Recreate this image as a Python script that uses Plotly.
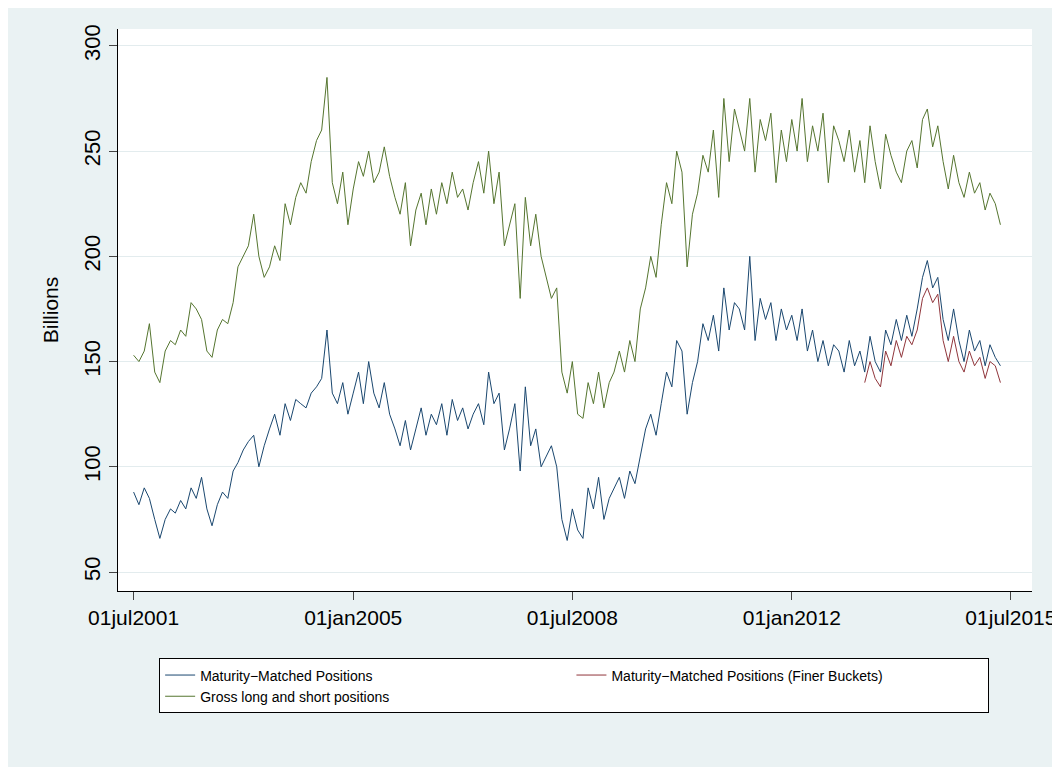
import pandas as pd
import plotly.graph_objects as go

# monthly readings, Jul 2001 - May 2015
gross = [153, 150, 155, 168, 145, 140,
         155, 160, 158, 165, 162, 178, 175, 170, 155, 152, 165, 170,
         168, 178, 195, 200, 205, 220, 200, 190, 195, 205, 198, 225,
         215, 228, 235, 230, 245, 255, 260, 285, 235, 225, 240, 215,
         232, 245, 238, 250, 235, 240, 252, 238, 228, 220, 235, 205,
         222, 230, 215, 232, 220, 235, 225, 240, 228, 232, 222, 235,
         245, 230, 250, 225, 240, 205, 215, 225, 180, 228, 205, 220,
         200, 190, 180, 185, 145, 135, 150, 125, 123, 140, 130, 145,
         128, 140, 145, 155, 145, 160, 150, 175, 185, 200, 190, 215,
         235, 225, 250, 240, 195, 220, 230, 248, 240, 260, 228, 275,
         245, 270, 260, 250, 275, 240, 265, 255, 268, 235, 260, 245,
         265, 250, 275, 245, 262, 250, 268, 235, 262, 255, 245, 260,
         240, 255, 235, 262, 245, 232, 258, 248, 240, 235, 250, 255,
         242, 265, 270, 252, 262, 245, 232, 248, 235, 228, 240, 230,
         235, 222, 230, 225, 215]

matched = [88, 82, 90, 85, 75, 66,
           75, 80, 78, 84, 80, 90, 85, 95, 80, 72, 82, 88,
           85, 98, 102, 108, 112, 115, 100, 110, 118, 125, 115, 130,
           122, 132, 130, 128, 135, 138, 142, 165, 135, 130, 140, 125,
           135, 145, 130, 150, 135, 128, 140, 125, 118, 110, 122, 108,
           118, 128, 115, 125, 120, 130, 115, 132, 122, 128, 118, 125,
           130, 120, 145, 130, 135, 108, 118, 130, 98, 138, 110, 118,
           100, 105, 110, 100, 75, 65, 80, 70, 66, 90, 80, 95,
           75, 85, 90, 95, 85, 98, 92, 105, 118, 125, 115, 130,
           145, 138, 160, 155, 125, 140, 150, 168, 160, 172, 155, 185,
           165, 178, 175, 165, 200, 160, 180, 170, 178, 160, 175, 165,
           172, 160, 175, 155, 165, 150, 160, 148, 158, 155, 145, 160,
           148, 155, 145, 162, 150, 145, 165, 158, 170, 160, 172, 162,
           175, 190, 198, 185, 190, 170, 160, 175, 160, 150, 165, 155,
           160, 148, 158, 152, 148]

finer = [140, 150, 142, 138, 155, 148, 160, 152, 162, 158,
         165, 180, 185, 178, 182, 160, 150, 162, 150, 145, 155, 148,
         152, 142, 150, 148, 140]

dates = pd.date_range("2001-07-01", periods=len(gross), freq="MS")
dates_finer = pd.date_range("2013-03-01", periods=len(finer), freq="MS")

tick_dates = ["2001-07-01", "2005-01-01", "2008-07-01", "2012-01-01", "2015-07-01"]
tick_text = ["01jul2001", "01jan2005", "01jul2008", "01jan2012", "01jul2015"]

fig = go.Figure()
fig.add_trace(go.Scatter(x=dates, y=matched, mode="lines", name="Maturity\u2212Matched Positions",
                         line=dict(color="#1a476f", width=1)))
fig.add_trace(go.Scatter(x=dates_finer, y=finer, mode="lines",
                         name="Maturity\u2212Matched Positions (Finer Buckets)",
                         line=dict(color="#90353b", width=1)))
fig.add_trace(go.Scatter(x=dates, y=gross, mode="lines", name="Gross long and short positions",
                         line=dict(color="#55752f", width=1)))

fig.update_layout(
    width=1060, height=767,
    paper_bgcolor="#eaf2f3", plot_bgcolor="white",
    margin=dict(l=110, r=25, t=21, b=184),
    font=dict(family="Liberation Sans, Arial", color="black"),
    legend=dict(orientation="h", x=0.045, y=-0.12, xanchor="left", yanchor="top",
                bgcolor="white", bordercolor="black", borderwidth=1,
                entrywidth=0.45, entrywidthmode="fraction", font=dict(size=14),
                tracegroupgap=20),
)
fig.update_xaxes(range=["2001-04-01", "2015-11-01"], tickvals=tick_dates, ticktext=tick_text,
                 showgrid=False, showline=True, linecolor="black", ticks="outside",
                 ticklen=8, tickfont=dict(size=21))
fig.update_yaxes(range=[41, 308], tickvals=[50, 100, 150, 200, 250, 300], tickangle=-90,
                 title=dict(text="Billions", font=dict(size=21)),
                 showgrid=True, gridcolor="#e3ecee", showline=True, linecolor="black",
                 ticks="outside", ticklen=8, tickfont=dict(size=22), zeroline=False)

fig.write_html("out.html")
